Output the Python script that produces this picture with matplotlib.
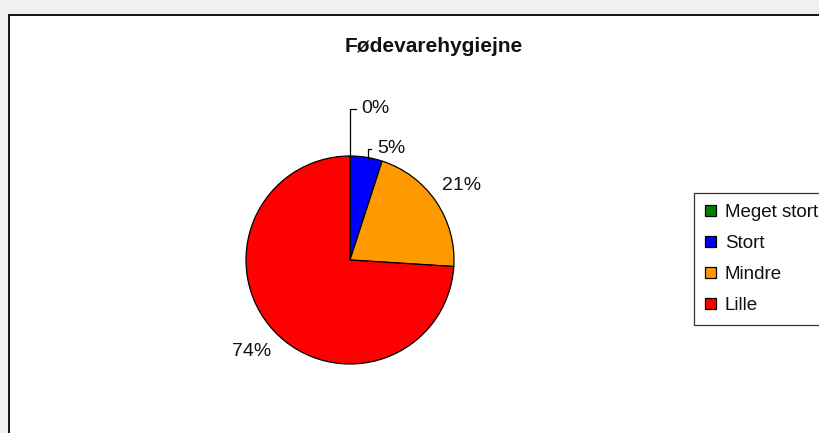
import matplotlib
matplotlib.use("Agg")
import matplotlib.pyplot as plt
from matplotlib.patches import Rectangle
import numpy as np

categories = ["Meget stort", "Stort", "Mindre", "Lille"]
values = [0, 5, 21, 74]
colors = ["#008000", "#0000ff", "#ff9900", "#ff0000"]
title = "Fødevarehygiejne"

plt.rcParams['font.family'] = ['Liberation Sans', 'DejaVu Sans']

W, H = 819, 433
fig = plt.figure(figsize=(W / 100, H / 100), dpi=100, facecolor="#f0f0f0")

# chart area frame
bg = Rectangle((8.5 / W, -0.1), 1.2, 1 - 14.5 / H + 0.1,
               transform=fig.transFigure, facecolor="white",
               edgecolor="black", linewidth=1.3, zorder=-10)
fig.patches.append(bg)

cx, cy, r = 350, 260, 104
ax = fig.add_axes([(cx - r) / W, (H - cy - r) / H, 2 * r / W, 2 * r / H])
ax.set_zorder(1)

wedges, _ = ax.pie(values, colors=colors, startangle=90, counterclock=False,
                   radius=1, wedgeprops=dict(edgecolor="black", linewidth=0.9))
ax.set_xlim(-1, 1)
ax.set_ylim(-1, 1)
ax.axis("off")

total = sum(values)
fs = 14
cum = np.cumsum([0] + values)
for i, v in enumerate(values):
    pct = f"{round(100 * v / total)}%"
    mid = np.deg2rad(90 - (cum[i] + v / 2) / total * 360)
    if v >= 10:
        ax.text(1.3 * np.cos(mid), 1.28 * np.sin(mid), pct, ha="center",
                va="center", fontsize=fs, color="#111111", clip_on=False)

# small slices with leader lines
ax.plot([0, 0, 0.06], [1.0, 1.452, 1.452], color="black", lw=0.9, clip_on=False)
ax.text(0.11, 1.452, f"{values[0]}%", ha="left", va="center", fontsize=fs,
        color="#111111", clip_on=False)
ax.plot([0.17, 0.17, 0.2], [0.985, 1.065, 1.065], color="black", lw=0.9, clip_on=False)
ax.text(0.265, 1.075, f"{values[1]}%", ha="left", va="center", fontsize=fs,
        color="#111111", clip_on=False)

fig.text(434 / W, 1 - 46 / H, title, ha="center", va="center", fontsize=15,
         fontweight="bold", color="#111111")

leg = fig.legend(wedges, categories, loc="upper left",
                 bbox_to_anchor=(694 / W, 1 - 193 / H), bbox_transform=fig.transFigure,
                 borderaxespad=0, fontsize=13.5, frameon=True, fancybox=False,
                 edgecolor="black", handlelength=0.55, handleheight=0.55,
                 handletextpad=0.5, borderpad=0.6, labelspacing=0.74)
leg.get_frame().set_linewidth(0.9)
leg.set_zorder(2)
for t in leg.get_texts():
    t.set_color("#111111")

fig.savefig("out.png", dpi=100, facecolor=fig.get_facecolor())
